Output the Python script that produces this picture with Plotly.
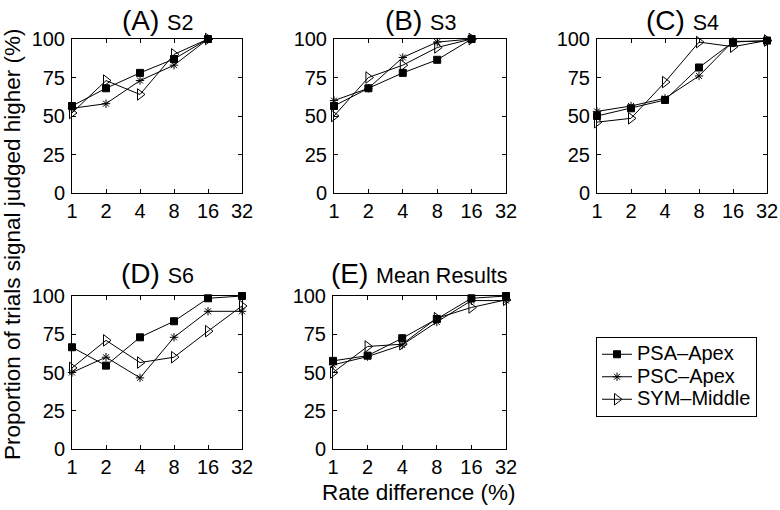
import plotly.graph_objects as go

rate = [1, 2, 4, 8, 16, 32]
tick_labels = ["1", "2", "4", "8", "16", "32"]
y_ticks = [0, 25, 50, 75, 100]
series_names = ["PSA–Apex", "PSC–Apex", "SYM–Middle"]

# Panel A: S2 (data up to 16)
a_psa = [56.5, 68, 78, 87, 100]
a_psc = [55, 58, 73, 83, 100]
a_sym = [52, 73, 64, 90, 100]
# Panel B: S3
b_psa = [56.5, 68, 78, 86.5, 100]
b_psc = [60, 68, 88, 98, 100]
b_sym = [50, 75, 83, 94.5, 100]
# Panel C: S4
c_psa = [50, 55, 60.4, 81.5, 98, 99]
c_psc = [53, 56.5, 61.5, 76, 98.5, 98.5]
c_sym = [46, 48.5, 72, 98, 95, 99]
# Panel D: S6
d_psa = [66.5, 54.5, 73, 83.5, 98.5, 100]
d_psc = [50, 60, 46.5, 73, 90, 90]
d_sym = [53, 71, 56.5, 60, 77, 93.5]
# Panel E: Mean Results
e_psa = [57.6, 61, 72.4, 85, 98.5, 100]
e_psc = [55, 60.4, 68, 83, 97, 97]
e_sym = [50, 67, 68.5, 85.5, 92.5, 97.5]

panels = [
    ("(A)", "S2", [a_psa, a_psc, a_sym]),
    ("(B)", "S3", [b_psa, b_psc, b_sym]),
    ("(C)", "S4", [c_psa, c_psc, c_sym]),
    ("(D)", "S6", [d_psa, d_psc, d_sym]),
    ("(E)", "Mean Results", [e_psa, e_psc, e_sym]),
]

W, H = 780, 510
# pixel boxes (left, right, top, bottom)
boxes = [
    (72, 242, 39, 193),
    (334, 506, 39, 193),
    (597, 767, 39, 193),
    (72, 242, 296, 449),
    (333, 506, 296, 449),
]

FONT = "Liberation Sans, Arial, Helvetica, sans-serif"
markers = [
    dict(symbol="square", size=7, color="black", line=dict(color="black", width=1)),
    dict(symbol="asterisk-open", size=7, color="black", line=dict(color="black", width=1)),
    dict(symbol="triangle-right-open", size=10, color="black", line=dict(color="black", width=1)),
]

fig = go.Figure()
annotations = []
for i, (lab, sub, data) in enumerate(panels):
    idx = "" if i == 0 else str(i + 1)
    xa, ya = "x" + idx, "y" + idx
    for j, vals in enumerate(data):
        fig.add_trace(go.Scatter(
            x=rate[:len(vals)], y=vals, mode="lines+markers",
            name=f"<span style='font-size:20px'>{series_names[j]}</span>",
            xaxis=xa, yaxis=ya,
            line=dict(color="black", width=1), marker=markers[j],
            showlegend=(i == 0), cliponaxis=False,
        ))
    l, r, t, b = boxes[i]
    axis_common = dict(
        showline=True, linecolor="black", linewidth=1, mirror="ticks",
        ticks="inside", ticklen=4, tickcolor="black", showgrid=False,
        zeroline=False, automargin=False,
        tickfont=dict(family=FONT, size=20, color="black"),
    )
    fig.layout["xaxis" + idx] = dict(
        domain=[l / W, r / W], anchor=ya, type="log",
        range=[0, 1.50515], tickvals=rate, ticktext=tick_labels, **axis_common)
    fig.layout["yaxis" + idx] = dict(
        domain=[1 - b / H, 1 - t / H], anchor=xa,
        range=[0, 100], tickvals=y_ticks, ticklabelstandoff=2, **axis_common)
    cy = 21 if i < 3 else 273
    annotations.append(dict(
        x=(l + r) / 2 / W, y=1 - cy / H, xref="paper", yref="paper",
        text=f"{lab} <span style='font-size:21.5px'>{sub}</span>",
        showarrow=False, xanchor="center", yanchor="middle",
        font=dict(family=FONT, size=28, color="black")))

annotations.append(dict(
    x=418 / W, y=1 - 492 / H, xref="paper", yref="paper",
    text="Rate difference (%)", showarrow=False,
    xanchor="center", yanchor="middle",
    font=dict(family=FONT, size=22.5, color="black")))
annotations.append(dict(
    x=12 / W, y=1 - 245 / H, xref="paper", yref="paper",
    text="Proportion of trials signal judged higher (%)", showarrow=False,
    textangle=-90, xanchor="center", yanchor="middle",
    font=dict(family=FONT, size=22.5, color="black")))

fig.update_layout(
    template="none",
    width=W, height=H, margin=dict(l=0, r=0, t=0, b=0, autoexpand=False),
    paper_bgcolor="white", plot_bgcolor="white",
    annotations=annotations,
    legend=dict(
        x=596 / W, y=1 - 337 / H, xanchor="left", yanchor="top",
        bordercolor="black", borderwidth=1, bgcolor="white",
        font=dict(family=FONT, size=15, color="black"),
        tracegroupgap=0, itemwidth=30,
    ),
)

fig.write_html(
    "out.html",
    config={"displayModeBar": False},
    post_script="document.body.style.margin='0';document.body.style.overflow='hidden';",
)
